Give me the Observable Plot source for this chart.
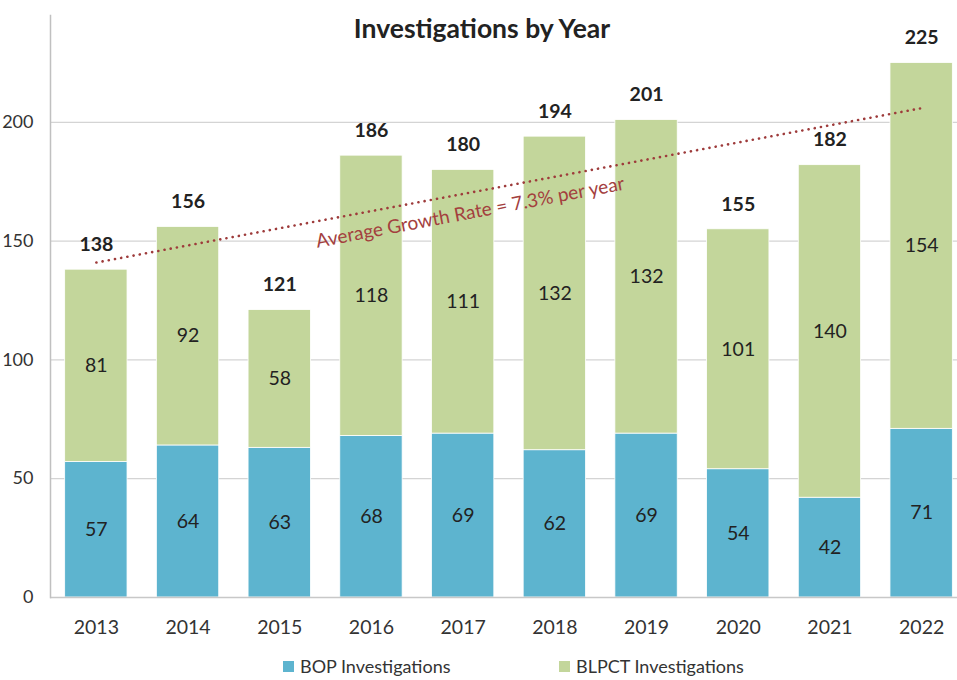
<!DOCTYPE html>
<html>
<head>
<meta charset="utf-8">
<script src="https://cdn.jsdelivr.net/npm/d3@7"></script>
<script src="https://cdn.jsdelivr.net/npm/@observablehq/plot@0.6"></script>
<style>
  body { margin: 0; background: #fff; font-family: Lato, "Open Sans", sans-serif; }
  #wrap { position: relative; width: 957px; height: 680px; overflow: hidden; }
  #legend { position: absolute; top: 655px; left: 0; width: 957px; height: 24px; font-size: 18px; color: #333; }
  .item { position: absolute; top: 0; display: flex; align-items: center; gap: 6px; }
  .sw { width: 11px; height: 11px; display: inline-block; }
</style>
</head>
<body>
<div id="wrap">
  <div id="chart"></div>
  <div id="legend"></div>
</div>
<script>
const years = ["2013","2014","2015","2016","2017","2018","2019","2020","2021","2022"];
const bop = [57,64,63,68,69,62,69,54,42,71];
const blpct = [81,92,58,118,111,132,132,101,140,154];
const seriesNames = ["BOP Investigations","BLPCT Investigations"];
const seriesColors = ["#5DB4CF","#C3D69B"];
const yTicks = [0,50,100,150,200];
const trendYears = ["2013","2022"];
const trendValues = [141,206];
const title = "Investigations by Year";
const trendLabel = "Average Growth Rate = 7.3% per year";

const rows = [];
years.forEach((y,i) => rows.push({year:y, series:seriesNames[0], value:bop[i]}));
years.forEach((y,i) => rows.push({year:y, series:seriesNames[1], value:blpct[i]}));
const totals = years.map((y,i) => ({year:y, total: bop[i] + blpct[i]}));
const trend = trendYears.map((y,i) => ({year:y, v:trendValues[i]}));

const chart = Plot.plot({
  width: 957,
  height: 650,
  marginLeft: 50,
  marginRight: 0,
  marginTop: 15,
  marginBottom: 53,
  style: {fontFamily: "Lato, 'Open Sans', sans-serif", fontSize: "18px", color: "#333", background: "#fff"},
  x: {domain: years, range: [50, 967], round: false, paddingInner: 0.32, paddingOuter: 0.16, label: null},
  y: {domain: [0, 245], label: null},
  color: {domain: seriesNames, range: seriesColors},
  marks: [
    Plot.ruleY(yTicks.slice(1), {stroke: "#d4d4d4", strokeWidth: 1.3}),
    Plot.barY(rows, {x: "year", y: "value", fill: "series", order: seriesNames, stroke: "#fff", strokeWidth: 0.8}),
    Plot.ruleY([0], {stroke: "#c8c8c8", strokeWidth: 1.5}),
    Plot.frame({anchor: "left", stroke: "#c0c0c0", strokeWidth: 1.5}),
    Plot.axisY({ticks: yTicks, tickSize: 0, tickPadding: 17, fontSize: 18, label: null}),
    Plot.axisX({tickSize: 0, tickPadding: 23, fontSize: 19.5, label: null}),
    Plot.text(rows, Plot.stackY({x: "year", y: "value", z: "series", order: seriesNames, text: "value", fill: "#222", fontSize: 19.5})),
    Plot.text(totals, {x: "year", y: "total", text: "total", dy: -25, fontWeight: "bold", fontSize: 19.5, fill: "#222"}),
    Plot.line(trend, {x: "year", y: "v", stroke: "#9E3B3B", strokeWidth: 2.6, strokeDasharray: "0.1 6.2", strokeLinecap: "round"}),
    Plot.text([trendLabel], {x: () => "2017", y: () => 162, text: d => d, dx: 7, rotate: -10.7, fill: "#A3403E", fontSize: 19}),
    Plot.text([title], {frameAnchor: "top", text: d => d, dx: -22, dy: 4, fontWeight: "bold", fontSize: 26.5, fill: "#222"})
  ]
});
document.getElementById("chart").appendChild(chart);

const legend = document.getElementById("legend");
const lx = [283, 559];
seriesNames.forEach((n,i) => {
  const it = document.createElement("div");
  it.className = "item";
  it.style.left = lx[i] + "px";
  const sw = document.createElement("span");
  sw.className = "sw";
  sw.style.background = seriesColors[i];
  const t = document.createElement("span");
  t.textContent = n;
  it.appendChild(sw); it.appendChild(t);
  legend.appendChild(it);
});
</script>
</body>
</html>
